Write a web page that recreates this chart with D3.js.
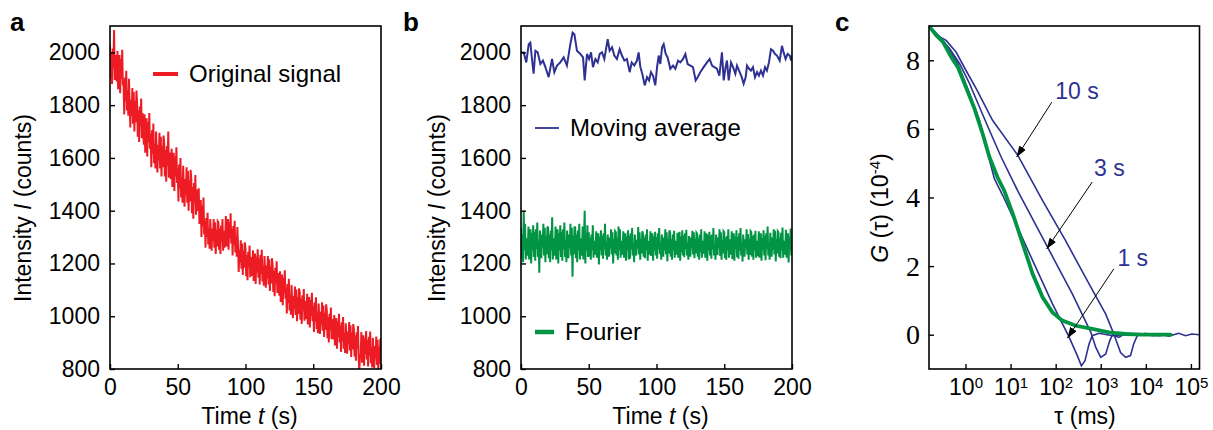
<!DOCTYPE html>
<html>
<head>
<meta charset="utf-8">
<script src="https://cdn.jsdelivr.net/npm/d3@7"></script>
<style>
  body { margin: 0; background: #fff; }
  svg { font-family: "Liberation Sans", Arial, sans-serif; }
</style>
</head>
<body>
<div id="chart"></div>
<script>
// ---------- data ----------
const timeTicks = [0, 50, 100, 150, 200]
const intensityTicks = [800, 1000, 1200, 1400, 1600, 1800, 2000]
const gTicks = [0, 2, 4, 6, 8]
const tauTicks = [1, 10, 100, 1000, 10000, 100000]
const sampleStep = 0.5 // s between readings of the two noisy traces

// a) original signal, one reading every 0.5 s (counts)
const originalSignal = [
  2030, 1900, 2000, 1880, 2015, 1940, 2085, 1895, 1990, 1910,
  1890, 2005, 1860, 1950, 1990, 1845, 1975, 1900, 2010, 1875,
  1890, 1765, 1905, 1815, 1930, 1780, 1855, 1760, 1900, 1805,
  1715, 1820, 1760, 1865, 1730, 1850, 1700, 1815, 1735, 1855,
  1810, 1680, 1780, 1660, 1795, 1720, 1825, 1675, 1770, 1690,
  1650, 1765, 1620, 1710, 1750, 1605, 1735, 1660, 1770, 1635,
  1690, 1565, 1705, 1615, 1730, 1580, 1655, 1560, 1700, 1605,
  1545, 1650, 1590, 1695, 1560, 1680, 1530, 1645, 1565, 1685,
  1660, 1530, 1630, 1510, 1645, 1570, 1700, 1525, 1620, 1540,
  1520, 1635, 1490, 1580, 1620, 1475, 1605, 1530, 1640, 1505,
  1560, 1435, 1575, 1485, 1600, 1450, 1525, 1430, 1570, 1475,
  1415, 1520, 1460, 1565, 1430, 1550, 1400, 1515, 1435, 1555,
  1520, 1390, 1490, 1370, 1505, 1430, 1535, 1385, 1480, 1400,
  1410, 1485, 1350, 1420, 1440, 1300, 1420, 1340, 1450, 1310,
  1360, 1260, 1372, 1300, 1392, 1272, 1332, 1256, 1368, 1292,
  1248, 1332, 1284, 1368, 1260, 1356, 1236, 1328, 1264, 1360,
  1356, 1252, 1332, 1236, 1344, 1284, 1368, 1248, 1324, 1260,
  1288, 1380, 1264, 1336, 1368, 1252, 1356, 1296, 1390, 1276,
  1330, 1230, 1342, 1270, 1362, 1242, 1302, 1226, 1338, 1262,
  1168, 1252, 1204, 1288, 1180, 1276, 1156, 1248, 1184, 1280,
  1256, 1152, 1232, 1136, 1244, 1184, 1268, 1148, 1224, 1160,
  1158, 1250, 1134, 1206, 1238, 1122, 1226, 1166, 1254, 1146,
  1220, 1120, 1232, 1160, 1252, 1132, 1192, 1116, 1228, 1152,
  1108, 1192, 1144, 1228, 1120, 1216, 1096, 1188, 1124, 1220,
  1196, 1092, 1172, 1076, 1184, 1124, 1208, 1088, 1164, 1100,
  1078, 1170, 1054, 1126, 1158, 1042, 1146, 1086, 1174, 1066,
  1110, 1010, 1122, 1050, 1142, 1022, 1082, 1006, 1118, 1042,
  993, 1077, 1029, 1113, 1005, 1101, 981, 1073, 1009, 1105,
  1091, 987, 1067, 971, 1079, 1019, 1103, 983, 1059, 995,
  993, 1085, 969, 1041, 1073, 957, 1061, 1001, 1089, 981,
  1040, 940, 1052, 980, 1072, 952, 1012, 936, 1048, 972,
  933, 1017, 969, 1053, 945, 1041, 921, 1013, 949, 1045,
  1021, 917, 997, 901, 1009, 949, 1033, 913, 989, 925,
  913, 1005, 889, 961, 993, 877, 981, 921, 1009, 901,
  965, 865, 977, 905, 997, 877, 937, 861, 973, 897,
  858, 942, 894, 978, 870, 966, 846, 938, 874, 970,
  951, 847, 927, 831, 939, 879, 963, 843, 790, 855,
  848, 940, 824, 896, 928, 812, 916, 856, 944, 836,
  910, 810, 922, 850, 942, 822, 882, 806, 918, 842,
  803, 887, 839, 923, 815, 911, 791, 883, 819, 915,
  860
]

// b) Fourier-filtered signal, one reading every 0.5 s (counts)
const fourierSignal = [
  1335, 1220, 1310, 1205, 1400, 1250, 1350, 1215, 1295, 1230,
  1240, 1340, 1215, 1290, 1330, 1200, 1315, 1250, 1345, 1225,
  1320, 1210, 1330, 1255, 1355, 1225, 1285, 1165, 1325, 1245,
  1220, 1310, 1260, 1350, 1230, 1335, 1205, 1305, 1235, 1340,
  1335, 1220, 1310, 1205, 1325, 1250, 1375, 1215, 1295, 1230,
  1240, 1340, 1215, 1290, 1330, 1200, 1315, 1250, 1345, 1225,
  1320, 1210, 1330, 1255, 1355, 1225, 1285, 1205, 1325, 1245,
  1220, 1310, 1260, 1350, 1230, 1335, 1150, 1305, 1235, 1340,
  1335, 1220, 1310, 1205, 1325, 1250, 1350, 1215, 1295, 1230,
  1240, 1340, 1215, 1290, 1400, 1200, 1315, 1250, 1345, 1225,
  1318, 1226, 1298, 1214, 1310, 1250, 1345, 1222, 1286, 1234,
  1242, 1322, 1222, 1282, 1314, 1196, 1302, 1250, 1326, 1230,
  1306, 1218, 1314, 1254, 1350, 1230, 1278, 1214, 1310, 1246,
  1226, 1298, 1258, 1330, 1234, 1318, 1200, 1294, 1238, 1322,
  1318, 1230, 1298, 1214, 1340, 1250, 1330, 1222, 1286, 1234,
  1242, 1322, 1222, 1282, 1314, 1210, 1302, 1250, 1326, 1215,
  1306, 1218, 1314, 1254, 1334, 1230, 1278, 1205, 1310, 1246,
  1230, 1290, 1258, 1338, 1234, 1318, 1214, 1294, 1238, 1322,
  1312, 1226, 1298, 1220, 1310, 1250, 1330, 1210, 1286, 1234,
  1242, 1322, 1228, 1282, 1314, 1210, 1302, 1250, 1320, 1230,
  1300, 1218, 1314, 1254, 1334, 1236, 1278, 1214, 1310, 1246,
  1226, 1298, 1250, 1330, 1234, 1318, 1208, 1294, 1238, 1326,
  1318, 1226, 1292, 1214, 1310, 1250, 1324, 1222, 1286, 1234,
  1242, 1316, 1222, 1282, 1320, 1210, 1302, 1244, 1326, 1230,
  1306, 1224, 1314, 1254, 1328, 1230, 1278, 1214, 1304, 1246,
  1226, 1298, 1258, 1324, 1234, 1318, 1220, 1294, 1238, 1316,
  1312, 1226, 1298, 1214, 1310, 1244, 1330, 1222, 1286, 1240,
  1242, 1322, 1222, 1276, 1314, 1210, 1308, 1250, 1320, 1230,
  1306, 1218, 1310, 1254, 1334, 1230, 1272, 1214, 1310, 1246,
  1232, 1298, 1258, 1330, 1228, 1318, 1214, 1288, 1238, 1322,
  1318, 1220, 1298, 1214, 1304, 1250, 1330, 1222, 1292, 1234,
  1242, 1322, 1216, 1282, 1314, 1210, 1302, 1256, 1326, 1224,
  1300, 1218, 1314, 1248, 1334, 1230, 1278, 1208, 1310, 1246,
  1226, 1292, 1258, 1330, 1234, 1312, 1214, 1294, 1232, 1322,
  1318, 1226, 1304, 1214, 1310, 1250, 1324, 1222, 1286, 1228,
  1236, 1322, 1222, 1288, 1314, 1210, 1296, 1250, 1326, 1230,
  1306, 1212, 1314, 1254, 1340, 1230, 1278, 1214, 1316, 1246,
  1226, 1298, 1252, 1330, 1234, 1324, 1208, 1294, 1238, 1322,
  1318, 1226, 1298, 1220, 1316, 1250, 1336, 1222, 1286, 1234,
  1242, 1328, 1222, 1282, 1314, 1204, 1302, 1250, 1332, 1230,
  1260
]

// b) moving average [time s, counts]
const movingAverage = [
  [0, 2000], [2.0, 2000], [3.9, 1962], [5.7, 2031], [6.9, 2037], [8.1, 1975],
  [9.3, 1919], [10.6, 2006], [12.3, 2000], [14.3, 1956], [16.2, 1969], [18.0, 1944],
  [20.4, 1906], [22.9, 1975], [24.6, 1925], [26.6, 1950], [29.0, 1962], [31.5, 1981],
  [33.9, 1950], [36.4, 2031], [38.1, 2075], [39.4, 2069], [41.3, 2006], [43.8, 1994],
  [45.8, 1981], [47.0, 1894], [48.7, 1994], [50.2, 1975], [51.7, 2000], [53.1, 1944],
  [54.9, 1975], [56.6, 1962], [58.1, 1994], [59.8, 2000], [61.5, 1975], [64.0, 2050],
  [65.4, 2006], [67.2, 2019], [68.9, 1988], [70.8, 1975], [72.8, 2012], [74.5, 1988],
  [76.3, 1969], [78.2, 1975], [80.2, 1925], [81.7, 1962], [83.6, 1950], [85.6, 1969],
  [86.8, 2000], [88.1, 1944], [89.5, 1919], [91.3, 1875], [93.0, 1906], [94.5, 1894],
  [95.9, 1925], [97.4, 1912], [99.1, 1875], [100.4, 1944], [101.6, 1988], [102.8, 1956],
  [104.1, 2019], [105.3, 2031], [106.8, 1994], [108.2, 1981], [110.2, 1938], [112.2, 1950],
  [113.9, 1938], [115.9, 1969], [117.6, 1962], [119.6, 1975], [121.3, 1994], [123.0, 1956],
  [125.0, 1950], [126.9, 1944], [128.9, 1894], [130.4, 1906], [132.3, 1925], [134.8, 1944],
  [137.3, 1962], [139.2, 1975], [141.0, 1950], [142.7, 1944], [144.6, 1938], [146.4, 1912],
  [148.3, 2000], [149.6, 1894], [151.0, 1944], [152.0, 1969], [153.3, 1894], [155.0, 1962],
  [156.5, 1944], [158.2, 1919], [159.4, 1950], [161.4, 1925], [162.9, 1906], [164.3, 1881],
  [165.8, 1906], [166.8, 1950], [168.3, 1938], [169.7, 1931], [171.2, 1944], [172.7, 1906],
  [174.2, 1925], [175.6, 1912], [177.1, 1931], [178.6, 1912], [180.1, 1944], [181.5, 1931],
  [183.0, 1962], [184.5, 2012], [186.0, 2006], [187.5, 1994], [188.9, 1988], [190.9, 1969],
  [192.6, 2025], [193.8, 2000], [195.3, 1975], [196.8, 1994], [198.3, 1988], [199.3, 1969],
  [200, 1988]
]

// c) correlation curves [tau ms, G (1e-4)]
const corrFourier = [
  [0.155, 9.0], [0.224, 8.73], [0.316, 8.54], [0.479, 8.10], [0.676, 7.80], [1.02, 7.22],
  [1.58, 6.59], [2.40, 5.86], [3.39, 5.18], [5.13, 4.59], [7.24, 4.20], [11.2, 3.52],
  [18.6, 2.65], [30.9, 1.77], [51.3, 1.09], [85.1, 0.65], [141, 0.41], [282, 0.26],
  [646, 0.17], [1510, 0.07], [3550, 0.02], [8320, 0], [35500, 0]
]
const corr10s = [
  [0.155, 9.0], [0.269, 8.68], [0.372, 8.58], [0.617, 8.24], [1.02, 7.71], [1.74, 7.17],
  [3.98, 6.25], [14.5, 5.23], [51.3, 3.91], [166, 2.74], [550, 1.48], [1290, 0.60],
  [1950, 0.02], [2750, -0.52], [3550, -0.66], [4570, -0.61], [5370, -0.27], [6460, -0.03],
  [9770, 0.04], [13800, -0.03], [19500, 0.02], [32400, -0.04], [53700, 0.04], [75900, -0.03],
  [105000, 0.02], [155000, 0]
]
const corr3s = [
  [0.155, 9.0], [0.269, 8.68], [0.447, 8.34], [0.741, 7.90], [1.23, 7.32], [2.04, 6.64],
  [3.39, 5.96], [6.17, 5.18], [15.5, 4.11], [66.1, 2.55], [234, 1.19], [603, 0.07],
  [776, -0.37], [1000, -0.66], [1290, -0.56], [1580, -0.18], [1820, 0], [2510, -0.08],
  [3550, 0.04], [8320, 0], [19500, -0.03], [31600, 0]
]
const corr1s = [
  [0.155, 9.0], [0.224, 8.70], [0.372, 8.44], [0.676, 7.90], [1.23, 7.03], [2.04, 6.25],
  [3.39, 5.10], [4.37, 4.55], [6.76, 4.05], [13.2, 3.23], [30.9, 2.16], [85.1, 0.90],
  [200, -0.08], [302, -0.61], [372, -0.91], [447, -0.76], [550, -0.27], [646, -0.03],
  [912, 0.04], [1820, -0.03], [5010, 0.02], [19500, 0], [31600, 0]
]
// arrows: label, label anchor, arrow start, arrow tip
const corrLabels = [
  {text: "10 s", at: [97.7, 6.88], from: [82.2, 6.78], to: [13.6, 5.18]},
  {text: "3 s", at: [708, 4.64], from: [646, 4.45], to: [63.1, 2.50]},
  {text: "1 s", at: [2340, 2.01], from: [1950, 1.92], to: [182, -0.10]}
]

// ---------- layout ----------
const W = 1213, H = 430
const top0 = 26, plotH = 343
const red = "#ed1c24", blue = "#2e3192", green = "#009444"
const fontSize = 23
const sans = "Liberation Sans, Arial, sans-serif"

const svg = d3.select("#chart").append("svg")
  .attr("width", W).attr("height", H)
const defs = svg.append("defs")

defs.append("marker")
  .attr("id", "arrow")
  .attr("viewBox", "0 0 10 7")
  .attr("refX", 10).attr("refY", 3.5)
  .attr("markerWidth", 11).attr("markerHeight", 7.7)
  .attr("markerUnits", "userSpaceOnUse")
  .attr("orient", "auto")
  .append("path").attr("d", "M0,0L10,3.5L0,7z").attr("fill", "#000")

function makePanel(id, left, w) {
  defs.append("clipPath").attr("id", "clip-" + id)
    .append("rect").attr("width", w).attr("height", plotH)
  return svg.append("g").attr("transform", "translate(" + left + "," + top0 + ")")
}

function styleAxis(ax, size, family) {
  ax.select(".domain").remove()
  ax.selectAll(".tick line").attr("stroke", "#000").attr("stroke-width", 1.4)
  ax.selectAll(".tick text")
    .attr("fill", "#000")
    .style("font-size", size + "px")
    .style("font-family", family)
}

function drawBox(g, w) {
  g.append("rect")
    .attr("width", w).attr("height", plotH)
    .attr("fill", "none").attr("stroke", "#000").attr("stroke-width", 1.6)
}

function panelLetter(x, letter) {
  svg.append("text").attr("x", x).attr("y", 31)
    .attr("font-size", 26).attr("font-weight", "bold").text(letter)
}

function timeAxes(g, x, y, w, titleX, titleY) {
  g.append("g").attr("transform", "translate(0," + plotH + ")")
    .call(d3.axisBottom(x).tickValues(timeTicks).tickSize(-5).tickPadding(10))
    .call(ax => styleAxis(ax, fontSize, sans))
  g.append("g")
    .call(d3.axisLeft(y).tickValues(intensityTicks).tickFormat(d3.format("d")).tickSize(-5).tickPadding(10))
    .call(ax => styleAxis(ax, fontSize, sans))

  const xt = g.append("text")
    .attr("x", w / 2 + 4).attr("y", 398)
    .attr("text-anchor", "middle").attr("font-size", fontSize)
  xt.append("tspan").text("Time ")
  xt.append("tspan").attr("font-style", "italic").text("t")
  xt.append("tspan").text(" (s)")

  const yt = g.append("text")
    .attr("transform", "translate(" + titleX + "," + titleY + ") rotate(-90)")
    .attr("text-anchor", "middle").attr("font-size", fontSize)
  yt.append("tspan").text("Intensity ")
  yt.append("tspan").attr("font-style", "italic").text("I")
  yt.append("tspan").text(" (counts)")
}

function legendItem(g, x1, x2, yLine, color, width, label) {
  g.append("line")
    .attr("x1", x1).attr("x2", x2).attr("y1", yLine).attr("y2", yLine)
    .attr("stroke", color).attr("stroke-width", width)
  g.append("text")
    .attr("x", x2 + 11).attr("y", yLine + 8)
    .attr("font-size", 24).text(label)
}

// ---------- panel a ----------
function drawPanelA() {
  const w = 271
  const g = makePanel("a", 110, w)
  const x = d3.scaleLinear().domain([0, 200]).range([0, w])
  const y = d3.scaleLinear().domain([800, 2100]).range([plotH, 0])

  g.append("path")
    .datum(originalSignal)
    .attr("clip-path", "url(#clip-a)")
    .attr("fill", "none").attr("stroke", red).attr("stroke-width", 2)
    .attr("d", d3.line().x((d, i) => x(i * sampleStep)).y(d => y(d)))

  timeAxes(g, x, y, w, -79, 182)
  legendItem(g, 43, 68, 48, red, 4, "Original signal")
  drawBox(g, w)
  panelLetter(10, "a")
}

// ---------- panel b ----------
function drawPanelB() {
  const w = 271
  const g = makePanel("b", 521, w)
  const x = d3.scaleLinear().domain([0, 200]).range([0, w])
  const y = d3.scaleLinear().domain([800, 2100]).range([plotH, 0])

  g.append("path")
    .datum(fourierSignal)
    .attr("clip-path", "url(#clip-b)")
    .attr("fill", "none").attr("stroke", green).attr("stroke-width", 2)
    .attr("d", d3.line().x((d, i) => x(i * sampleStep)).y(d => y(d)))

  g.append("path")
    .datum(movingAverage)
    .attr("clip-path", "url(#clip-b)")
    .attr("fill", "none").attr("stroke", blue).attr("stroke-width", 2)
    .attr("d", d3.line().x(d => x(d[0])).y(d => y(d[1])))

  timeAxes(g, x, y, w, -76, 182)
  legendItem(g, 14, 38, 102, blue, 1.8, "Moving average")
  legendItem(g, 14, 33, 306, green, 4.5, "Fourier")
  drawBox(g, w)
  panelLetter(403, "b")
}

// ---------- panel c ----------
function drawPanelC() {
  const w = 270.5
  const g = makePanel("c", 929, w)
  const x = d3.scaleLog().domain([0.155, 155000]).range([0, w])
  const y = d3.scaleLinear().domain([-1, 9]).range([plotH, 0])
  const line = d3.line().x(d => x(d[0])).y(d => y(d[1]))

  const curves = g.append("g").attr("clip-path", "url(#clip-c)")
  ;[corr10s, corr3s, corr1s].forEach(c => {
    curves.append("path").datum(c)
      .attr("fill", "none").attr("stroke", blue).attr("stroke-width", 1.6)
      .attr("d", line)
  })
  curves.append("path").datum(corrFourier)
    .attr("fill", "none").attr("stroke", green).attr("stroke-width", 3.8)
    .attr("stroke-linecap", "round")
    .attr("d", line)

  g.selectAll(".arrow")
    .data(corrLabels)
    .join("line")
    .attr("class", "arrow")
    .attr("x1", d => x(d.from[0])).attr("y1", d => y(d.from[1]))
    .attr("x2", d => x(d.to[0])).attr("y2", d => y(d.to[1]))
    .attr("stroke", "#000").attr("stroke-width", 1)
    .attr("marker-end", "url(#arrow)")

  g.selectAll(".corrLabel")
    .data(corrLabels)
    .join("text")
    .attr("class", "corrLabel")
    .attr("x", d => x(d.at[0])).attr("y", d => y(d.at[1]))
    .attr("fill", blue).attr("font-size", fontSize)
    .text(d => d.text)

  const xa = g.append("g").attr("transform", "translate(0," + plotH + ")")
    .call(d3.axisBottom(x).tickValues(tauTicks).tickSize(-5).tickPadding(10))
    .call(ax => styleAxis(ax, fontSize, sans))
  xa.selectAll(".tick text").text(null)
    .each(function(d) {
      const t = d3.select(this)
      t.append("tspan").text("10")
      t.append("tspan").attr("dy", "-0.5em").style("font-size", "15px").text(Math.round(Math.log10(d)))
    })

  g.append("g")
    .call(d3.axisLeft(y).tickValues(gTicks).tickSize(-5).tickPadding(9))
    .call(ax => styleAxis(ax, 28, "Liberation Serif, Times New Roman, serif"))

  g.append("text")
    .attr("x", 156).attr("y", 398)
    .attr("text-anchor", "middle").attr("font-size", fontSize)
    .text("τ (ms)")

  const yt = g.append("text")
    .attr("transform", "translate(-41,182) rotate(-90)")
    .attr("text-anchor", "middle").attr("font-size", fontSize)
  yt.append("tspan").attr("font-style", "italic").text("G")
  yt.append("tspan").text(" (τ) (10")
  yt.append("tspan").attr("dy", -8).style("font-size", "15px").text("-4")
  yt.append("tspan").attr("dy", 8).text(")")

  drawBox(g, w)
  panelLetter(835, "c")
}

drawPanelA()
drawPanelB()
drawPanelC()
</script>
</body>
</html>
